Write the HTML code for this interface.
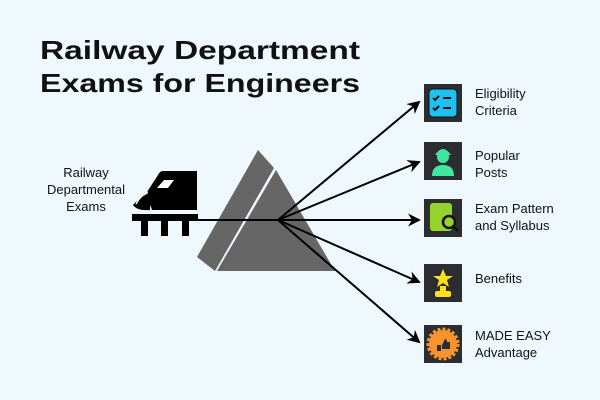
<!DOCTYPE html>
<html><head><meta charset="utf-8"><style>
html,body{margin:0;padding:0;background:#eef8fd;}
svg{display:block}
text{font-family:"Liberation Sans",sans-serif;fill:#111;}
</style></head><body>
<svg width="600" height="400" viewBox="0 0 600 400" xmlns="http://www.w3.org/2000/svg">
<rect width="600" height="400" fill="#eef8fd"/>
<text x="40" y="59" font-size="26" font-weight="bold" textLength="320" lengthAdjust="spacingAndGlyphs">Railway Department</text>
<text x="40" y="92" font-size="26" font-weight="bold" textLength="320" lengthAdjust="spacingAndGlyphs">Exams for Engineers</text>

<g font-size="13" text-anchor="middle">
<text x="86" y="177">Railway</text>
<text x="86" y="194">Departmental</text>
<text x="86" y="211">Exams</text>
</g>

<!-- prism -->
<polygon points="258,150 274,168 215,271 197,257" fill="#666"/>
<polygon points="276,170 335,271 217,271" fill="#666"/>

<!-- train -->
<path d="M163,171 L197,171 L197,210 L152,210 Q148,198 147,192 L158,175 Q160,171 163,171 Z" fill="#000"/>
<path d="M158,190 Q142,194 133,205 Q137,211 150,210 Q150,198 158,190 Z" fill="#000"/>
<path d="M148,192 Q140,196 136,204" stroke="#eef8fd" stroke-width="1.5" fill="none"/>
<polygon points="164,180 174,180 168,188 157,188" fill="#fff"/>
<rect x="132" y="214" width="66" height="7" fill="#000"/>
<rect x="141" y="221" width="7" height="15" fill="#000"/>
<rect x="161" y="221" width="7" height="15" fill="#000"/>
<rect x="182" y="221" width="7" height="15" fill="#000"/>

<!-- lines -->
<defs><marker id="a" markerWidth="13" markerHeight="13" refX="11" refY="6.5" orient="auto" markerUnits="userSpaceOnUse"><path d="M0,0 L13,6.5 L0,13 L4,6.5 Z" fill="#000"/></marker></defs>
<line x1="198" y1="220" x2="278" y2="220" stroke="#000" stroke-width="2"/>
<g stroke="#000" stroke-width="2" marker-end="url(#a)">
<line x1="278" y1="220" x2="419" y2="102"/>
<line x1="278" y1="220" x2="419" y2="162"/>
<line x1="278" y1="220" x2="419" y2="220"/>
<line x1="278" y1="220" x2="419" y2="282"/>
<line x1="278" y1="220" x2="419" y2="342"/>
</g>

<!-- icons -->
<rect x="424" y="84" width="38" height="38" fill="#2b2d31"/>
<rect x="429" y="89" width="28" height="28" rx="4" fill="#1fc1f5" stroke="#111" stroke-width="1"/>
<path d="M433,98 l2,2 l4,-4 M433,108 l2,2 l4,-4 M443,98 h8 M443,108 h8" stroke="#111" stroke-width="2" fill="none"/>

<rect x="424" y="142" width="38" height="38" fill="#2b2d31"/>
<circle cx="443" cy="157" r="6" fill="#3ee6a0"/>
<path d="M435,155 Q443,143 451,155 Z" fill="#3ee6a0"/>
<path d="M432,176 Q432,165 443,165 Q454,165 454,176 Z" fill="#3ee6a0"/>

<rect x="424" y="199" width="38" height="38" fill="#2b2d31"/>
<rect x="430" y="203" width="22" height="28" rx="3" fill="#96d22e"/>
<circle cx="449" cy="222" r="6" fill="#96d22e" stroke="#111" stroke-width="2.5"/>
<line x1="453" y1="226" x2="458" y2="231" stroke="#111" stroke-width="3"/>

<rect x="424" y="264" width="38" height="38" fill="#2b2d31"/>
<polygon points="443,269 446,276 453,276 447,280 449,287 443,283 437,287 439,280 433,276 440,276" fill="#fde01a"/>
<rect x="440" y="286" width="6" height="6" fill="#fde01a"/>
<rect x="435" y="291" width="16" height="6" rx="2" fill="#fde01a"/>

<rect x="424" y="325" width="38" height="38" fill="#2b2d31"/>
<circle cx="443" cy="344" r="14" fill="#f7942e"/>
<circle cx="443" cy="344" r="15" fill="none" stroke="#f7942e" stroke-width="3" stroke-dasharray="3 2"/>
<path d="M437,345 h4 v6 h-4 Z M442,345 l3,-6 q2,0 2,3 h3 v7 h-8 Z" fill="#2b2d31"/>

<g font-size="13">
<text x="475" y="98">Eligibility</text>
<text x="475" y="115">Criteria</text>
<text x="475" y="160">Popular</text>
<text x="475" y="177">Posts</text>
<text x="475" y="213">Exam Pattern</text>
<text x="475" y="230">and Syllabus</text>
<text x="475" y="283">Benefits</text>
<text x="475" y="340">MADE EASY</text>
<text x="475" y="357">Advantage</text>
</g>
</svg>
</body></html>
